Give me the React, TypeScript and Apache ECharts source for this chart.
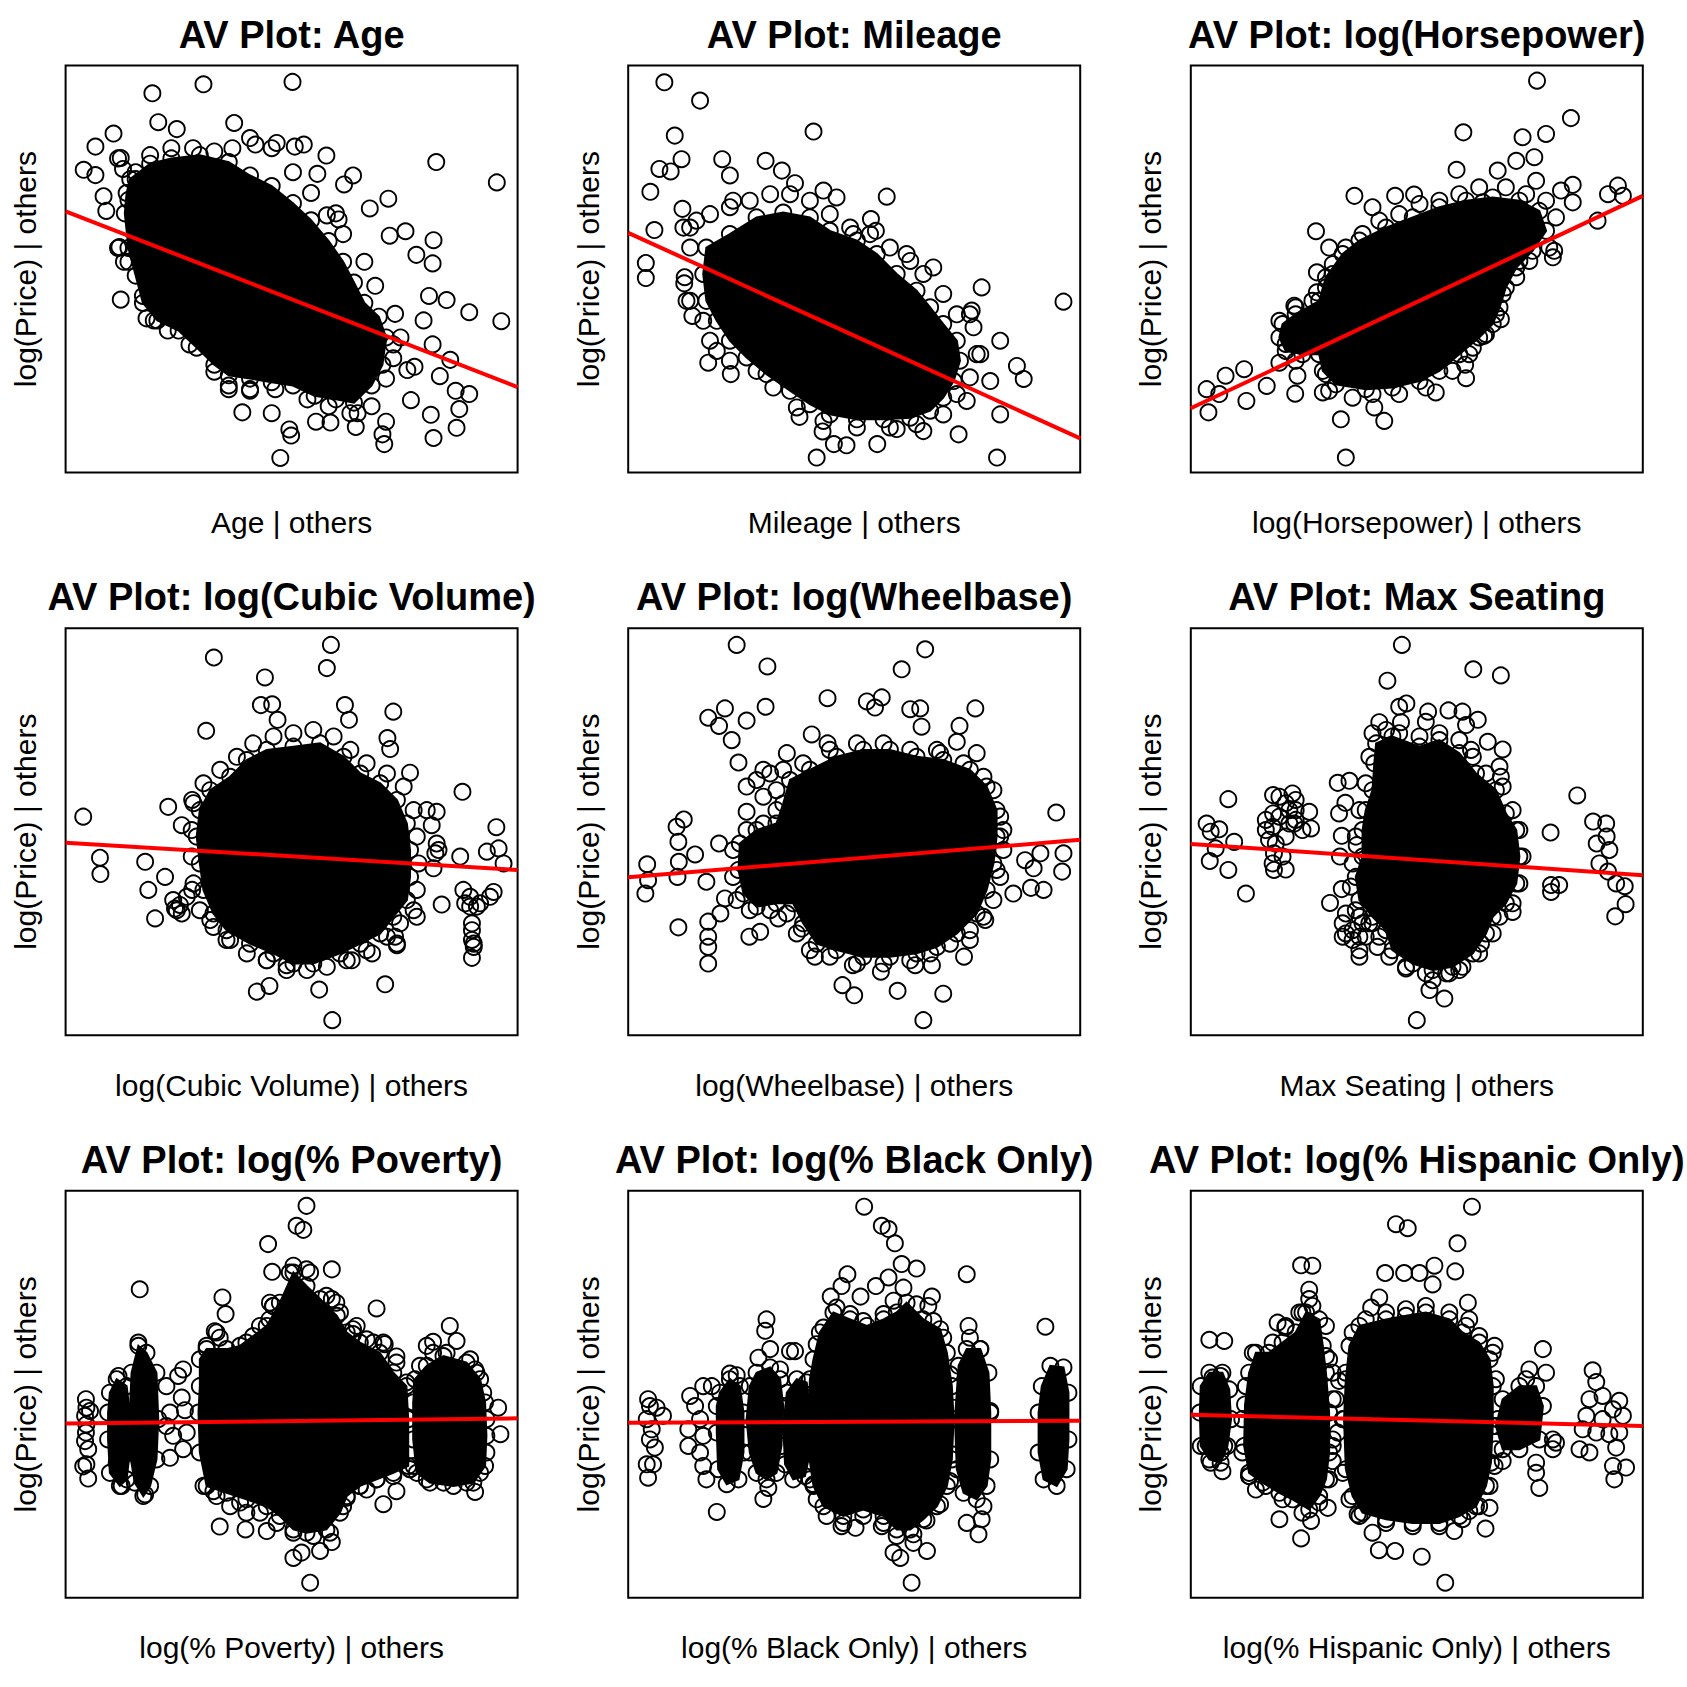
import React, { useEffect, useRef } from "react";
import * as echarts from "echarts";

type P = [number, number];

// ---------- text ----------
const titles = [
  "AV Plot: Age",
  "AV Plot: Mileage",
  "AV Plot: log(Horsepower)",
  "AV Plot: log(Cubic Volume)",
  "AV Plot: log(Wheelbase)",
  "AV Plot: Max Seating",
  "AV Plot: log(% Poverty)",
  "AV Plot: log(% Black Only)",
  "AV Plot: log(% Hispanic Only)",
];
const xLabels = [
  "Age | others",
  "Mileage | others",
  "log(Horsepower) | others",
  "log(Cubic Volume) | others",
  "log(Wheelbase) | others",
  "Max Seating | others",
  "log(% Poverty) | others",
  "log(% Black Only) | others",
  "log(% Hispanic Only) | others",
];
const yLabel = "log(Price) | others";

// ---------- Panel 1: Age ----------
const ageCore: P[] = [[14.3,72.1],[18.7,75.9],[23.4,77.2],[29.7,78.0],[36.1,76.3],[40.8,73.0],[45.6,70.4],[50.3,66.2],[54.3,62.0],[58.2,56.9],[61.4,51.8],[63.8,46.7],[66.1,41.7],[69.3,38.3],[70.9,33.2],[70.1,26.5],[67.7,21.4],[63.8,17.2],[59.8,18.0],[55.1,18.9],[50.3,21.4],[45.6,22.2],[40.8,23.1],[36.1,23.9],[32.9,26.5],[29.0,30.7],[25.0,34.9],[20.3,37.4],[17.1,41.7],[15.5,48.4],[13.9,55.2],[13.1,63.7],[13.5,68.7]];
const ageHalo: P[] = [[11.6,77.2],[12.7,74.6],[15.5,72.1],[13.9,67.0],[11.6,55.2],[13.9,51.8],[17.1,43.4],[19.5,37.4],[22.6,34.9],[27.4,31.5],[32.9,24.8],[36.1,21.4],[40.8,20.5],[46.4,20.5],[53.5,18.0],[58.2,16.3],[63.0,14.6],[67.7,16.3],[70.9,23.1],[72.5,28.1],[74.1,33.2],[68.5,45.9],[66.1,51.8],[61.4,58.6],[59.8,63.7],[54.3,68.7],[50.3,73.8],[45.6,79.7],[40.8,82.2],[36.9,79.7],[32.9,78.9],[28.2,79.7],[23.4,79.7],[18.7,78.0],[15.5,73.8]];
const agePoints: P[] = [[19.2,93.2],[30.5,95.4],[50.2,96.0],[20.5,86.1],[24.6,84.4],[10.6,83.3],[6.6,80.1],[37.3,85.9],[12.2,77.3],[4.0,74.4],[6.6,73.1],[57.7,77.9],[82.0,76.3],[95.4,71.3],[63.6,73.0],[61.6,70.8],[71.4,67.3],[67.3,64.9],[8.4,67.9],[9.0,64.3],[12.2,42.5],[17.9,37.9],[75.2,59.3],[71.7,58.2],[81.4,57.1],[81.2,51.4],[77.6,53.5],[80.4,43.4],[84.3,42.4],[89.3,39.4],[96.4,37.2],[79.2,37.4],[81.2,31.5],[85.1,27.7],[86.3,20.1],[89.3,19.3],[87.1,15.6],[86.5,11.0],[81.4,8.5],[80.8,14.2],[76.4,17.8],[70.5,7.0],[70.1,9.4],[70.9,12.5],[47.5,3.6],[49.9,9.1],[49.5,10.6],[45.6,14.6],[39.1,14.8],[58.6,12.3],[55.4,12.5],[64.2,11.2],[52.7,80.6],[50.7,80.1],[46.7,81.0],[42.0,80.6],[55.7,73.4],[57.8,63.2],[60.4,62.2],[11.9,55.4],[75.6,25.2],[72.5,31.5],[82.8,23.7],[12.9,51.8],[77.2,26.0],[72.9,39.0],[64.6,14.6],[36.1,20.5],[40.8,20.1]];
const ageFit: P = [64.2, 21.0];

// ---------- Panel 2: Mileage ----------
const mileageCore: P[] = [[17.3,55.3],[22.5,58.6],[28.4,62.7],[34.3,63.9],[40.2,62.7],[44.6,59.4],[50.6,57.0],[55.0,53.7],[59.4,48.8],[63.8,44.7],[66.8,40.6],[69.7,36.5],[72.7,32.4],[73.4,27.5],[72.0,22.5],[69.7,18.4],[66.8,15.2],[62.4,13.5],[56.5,13.1],[50.6,13.1],[44.6,14.3],[40.2,16.8],[35.8,20.1],[30.6,24.2],[26.2,28.3],[22.5,32.4],[19.6,37.3],[17.3,42.2],[16.6,48.8]];
const mileageHalo: P[] = [[12.2,60.2],[13.7,55.3],[12.5,48.0],[13.7,42.2],[16.6,37.3],[19.6,29.9],[22.5,27.5],[28.4,25.0],[32.1,20.9],[37.3,16.0],[43.2,12.7],[50.6,11.1],[57.9,11.1],[63.8,11.9],[69.7,14.3],[72.7,19.3],[75.6,23.4],[77.1,29.1],[76.4,35.7],[72.7,38.9],[69.7,43.9],[65.3,48.8],[62.4,52.0],[57.9,55.3],[53.5,58.6],[49.1,60.2],[44.6,63.5],[40.2,66.8],[35.8,68.4],[31.4,68.4],[26.9,66.8],[22.5,65.2],[18.1,63.5],[15.1,61.9]];
const mileagePoints: P[] = [[8.0,95.9],[15.9,91.4],[41.0,83.8],[10.3,82.8],[11.8,77.0],[6.9,74.6],[9.4,74.0],[20.8,77.0],[30.4,76.6],[4.9,69.0],[5.8,59.6],[3.9,51.5],[3.9,47.8],[57.2,67.8],[53.7,62.3],[78.2,45.5],[96.3,42.0],[12.0,64.8],[22.5,73.0],[34.0,74.2],[43.2,69.3],[46.1,67.6],[36.9,71.1],[17.7,27.0],[22.7,24.2],[12.4,46.5],[14.2,38.5],[37.9,13.7],[43.0,10.1],[45.5,7.0],[48.3,6.7],[41.7,3.7],[55.1,7.0],[73.1,9.4],[81.6,3.7],[82.3,14.3],[86.0,26.2],[87.5,23.0],[82.3,32.4],[76.0,39.8],[67.5,50.4],[61.6,53.7],[65.3,10.2],[59.4,10.7],[54.8,59.4],[49.8,58.6],[12.9,42.2],[18.1,32.4],[77.9,29.1],[80.1,22.5],[74.9,17.6],[23.2,66.8],[13.7,60.2],[75.6,38.9]];
const mileageFit: P = [58.9, 8.4];

// ---------- Panel 3: log(Horsepower) ----------
const hpCore: P[] = [[20.3,36.5],[23.2,38.9],[28.4,42.2],[29.9,48.0],[33.6,53.7],[37.3,57.0],[43.2,60.2],[49.1,62.7],[55.0,65.2],[60.9,66.8],[66.8,67.6],[72.7,66.8],[77.1,64.3],[78.6,59.4],[75.6,54.5],[72.0,50.4],[69.7,45.5],[68.3,40.6],[66.8,36.5],[63.8,33.2],[59.4,29.1],[55.0,25.0],[50.6,22.5],[44.6,20.9],[38.7,20.5],[32.1,21.7],[29.2,25.0],[28.4,29.1],[24.7,29.1],[21.0,29.9],[19.6,33.2]];
const hpHalo: P[] = [[19.6,37.3],[21.0,31.6],[23.2,27.5],[29.9,24.2],[30.6,20.1],[35.8,18.4],[40.2,19.3],[46.1,19.3],[52.0,20.9],[57.9,25.0],[62.4,30.7],[65.3,34.0],[67.5,38.9],[69.0,43.9],[72.0,48.0],[74.9,52.0],[79.3,55.3],[80.8,62.7],[78.6,66.8],[74.2,68.4],[69.7,70.1],[63.8,70.1],[59.4,68.4],[55.0,66.8],[50.6,66.0],[46.1,63.5],[41.7,61.9],[38.0,58.6],[34.3,55.3],[31.4,51.2],[29.9,45.5],[26.9,42.2],[23.2,40.6]];
const hpPoints: P[] = [[76.6,96.3],[84.1,87.1],[60.3,83.6],[73.4,82.4],[78.6,83.2],[72.0,76.6],[76.0,77.5],[58.8,74.4],[67.9,74.2],[76.4,71.7],[84.5,70.7],[81.9,69.3],[84.5,66.4],[94.5,70.5],[95.6,68.0],[92.3,68.4],[90.0,61.9],[36.2,68.0],[45.2,68.0],[49.4,68.3],[27.7,59.3],[40.2,65.2],[80.4,54.5],[80.1,52.9],[68.6,37.7],[64.9,33.6],[61.6,29.1],[60.7,26.5],[60.9,23.2],[54.2,19.7],[42.8,12.7],[40.6,16.0],[33.2,13.1],[34.3,3.7],[29.2,19.7],[23.1,19.4],[23.6,23.8],[16.8,21.3],[12.3,17.6],[11.8,25.4],[7.7,23.8],[6.3,19.3],[3.5,20.5],[3.9,14.8],[19.6,27.0],[22.9,41.0],[27.9,49.2],[27.9,44.3],[30.6,55.3],[31.4,48.8],[69.0,48.8],[72.7,52.0],[64.6,66.4]];
const hpFit: P = [15.8, 68.0];

// ---------- Panel 4: log(Cubic Volume) ----------
const cubicCore: P[] = [[29.7,55.3],[32.0,60.2],[36.4,63.5],[40.1,67.6],[44.5,70.1],[50.4,70.9],[56.3,71.7],[61.5,68.4],[65.2,64.3],[69.6,61.9],[73.3,57.8],[75.5,52.0],[76.2,45.5],[76.2,38.9],[75.5,33.2],[72.5,29.1],[69.6,25.0],[65.2,22.5],[60.7,20.1],[54.8,17.6],[50.4,17.6],[46.0,20.1],[40.8,22.5],[35.6,25.8],[32.7,29.9],[30.5,35.7],[29.7,42.2],[29.0,48.8]];
const cubicHalo: P[] = [[28.3,57.0],[30.5,61.9],[34.2,65.2],[37.9,68.4],[41.5,71.7],[46.0,73.4],[50.4,74.2],[54.8,75.0],[59.3,73.4],[63.0,70.1],[66.6,66.8],[71.1,64.3],[74.8,61.1],[77.0,55.3],[77.7,48.8],[78.1,42.2],[77.7,35.7],[77.0,30.7],[74.0,27.5],[71.1,24.2],[66.6,20.9],[62.2,18.4],[57.8,16.8],[53.4,16.0],[48.9,16.0],[44.5,18.4],[40.1,20.1],[35.6,23.4],[32.7,26.6],[29.7,30.7],[28.3,37.3],[27.9,43.9],[27.9,50.4]];
const cubicPoints: P[] = [[58.7,95.9],[32.8,92.8],[57.8,90.2],[44.1,87.9],[31.1,74.8],[43.2,81.1],[45.7,81.3],[46.9,77.5],[61.8,81.1],[62.7,77.5],[72.5,79.5],[71.2,73.0],[71.8,70.3],[76.2,64.5],[87.8,59.8],[79.9,55.3],[82.1,54.9],[95.3,51.1],[81.0,51.6],[87.3,43.9],[93.2,45.1],[95.8,45.9],[96.9,42.2],[94.7,35.2],[93.9,34.0],[83.2,32.1],[81.4,41.0],[89.5,31.6],[89.9,25.8],[89.9,19.0],[90.3,22.5],[3.9,53.7],[7.6,43.6],[7.7,39.6],[17.6,42.6],[18.3,35.7],[19.8,28.7],[22.7,56.1],[28.0,57.8],[25.7,51.6],[24.6,30.7],[22.0,38.9],[42.3,10.7],[45.1,12.1],[56.1,11.2],[70.7,12.5],[59.0,3.7],[67.8,20.1],[63.3,18.4],[48.9,17.2],[44.5,18.4],[73.3,22.5],[77.7,29.1],[36.4,23.4],[32.0,28.3],[24.2,31.1],[25.7,29.9],[26.8,34.0],[25.3,32.0],[23.8,33.2],[28.0,35.7],[89.9,27.5],[89.9,23.4],[90.3,21.7],[72.9,24.2],[73.3,22.1],[82.1,47.1],[82.5,45.5],[81.8,44.7],[88.0,35.7],[89.5,34.0],[91.7,32.4],[88.4,32.4],[91.0,31.6]];
const cubicFit: P = [47.3, 40.6];

// ---------- Panel 5: log(Wheelbase) ----------
const wheelCore: P[] = [[35.8,62.7],[40.2,65.2],[46.1,68.4],[52.0,70.1],[57.9,70.1],[63.8,68.4],[69.7,67.6],[75.6,65.2],[79.3,61.1],[81.5,55.3],[81.5,48.8],[80.8,42.2],[79.3,35.7],[77.1,29.9],[72.7,25.0],[68.3,21.7],[63.8,20.1],[57.9,19.3],[52.0,19.3],[46.1,20.9],[41.7,22.5],[38.7,27.5],[36.5,32.4],[32.8,32.4],[28.4,31.6],[25.5,34.8],[24.4,40.6],[24.7,47.1],[28.4,50.4],[32.8,52.0],[34.3,56.9]];
const wheelHalo: P[] = [[34.3,65.2],[38.7,66.8],[44.6,70.1],[50.6,71.7],[56.5,71.7],[62.4,70.1],[68.3,70.1],[74.2,66.8],[78.6,63.5],[80.8,60.2],[82.3,53.7],[83.0,45.5],[82.3,38.9],[80.8,33.2],[78.6,29.1],[75.6,25.8],[71.2,22.5],[66.8,20.1],[62.4,18.4],[56.5,17.6],[50.6,17.6],[44.6,19.3],[40.2,20.9],[37.3,25.0],[35.1,29.9],[31.4,30.7],[26.9,30.7],[24.0,33.2],[23.2,38.9],[23.2,45.5],[26.2,50.4],[29.9,52.0],[32.8,55.3],[32.8,60.2],[29.9,65.2],[28.4,62.7]];
const wheelPoints: P[] = [[24.0,95.9],[30.8,90.6],[65.7,94.8],[60.5,89.9],[44.1,82.8],[52.8,82.0],[56.1,83.0],[54.6,80.5],[30.4,80.7],[21.4,80.3],[17.7,78.0],[20.1,76.0],[26.2,77.3],[22.9,72.5],[76.8,80.3],[62.4,80.1],[64.6,80.3],[64.9,75.8],[40.6,73.9],[44.1,71.7],[73.3,76.0],[72.7,72.1],[24.4,67.0],[26.2,61.1],[26.2,54.9],[12.3,53.0],[10.7,51.2],[11.1,47.5],[14.8,44.4],[11.2,42.6],[10.9,38.9],[20.1,47.1],[4.2,42.0],[4.4,38.1],[3.8,34.8],[17.3,37.7],[11.1,26.5],[17.7,27.9],[20.4,29.9],[17.7,24.2],[17.7,21.7],[17.7,17.6],[26.8,24.2],[29.2,25.4],[21.4,33.6],[33.2,28.7],[94.7,54.7],[96.3,44.7],[96.0,40.2],[91.9,35.7],[89.1,36.2],[85.2,34.8],[87.8,43.0],[91.2,44.7],[89.7,41.0],[79.0,28.3],[75.6,23.4],[74.3,19.3],[69.7,10.2],[59.6,10.9],[65.3,3.7],[50.0,9.8],[47.4,12.3],[41.3,19.3],[49.7,17.2],[55.9,15.6],[63.5,17.2],[67.2,17.2],[38.4,26.2],[83.0,50.4],[82.3,48.8],[81.5,40.6],[77.1,69.3],[69.0,69.3],[31.4,64.3],[35.1,69.3],[29.9,58.6]];
const wheelFit: P = [38.8, 48.0];

// ---------- Panel 6: Max Seating ----------
const seatCore: P[] = [[41.0,71.7],[44.6,73.4],[50.6,70.9],[55.0,72.5],[59.4,69.3],[63.1,64.3],[67.5,60.2],[69.7,54.5],[72.0,50.4],[72.7,43.9],[72.0,37.3],[69.7,32.4],[66.8,29.1],[65.3,25.0],[62.4,20.1],[57.9,16.8],[53.5,16.0],[49.1,17.6],[44.6,20.9],[43.2,25.8],[40.2,29.1],[37.3,33.2],[36.5,38.9],[38.0,43.9],[38.0,50.4],[38.7,55.3],[40.2,60.2],[40.6,66.8]];
const seatHalo: P[] = [[40.2,74.2],[43.2,75.0],[46.1,74.2],[50.6,73.4],[55.0,74.2],[59.4,72.5],[62.4,68.4],[65.3,64.3],[69.0,61.1],[71.2,55.3],[72.7,50.4],[73.4,43.9],[72.7,37.3],[71.2,32.4],[68.3,29.1],[66.8,25.0],[63.8,20.1],[60.1,16.8],[56.5,15.2],[52.0,15.2],[47.6,16.8],[43.9,19.3],[41.7,24.2],[39.5,27.5],[36.5,30.7],[35.4,36.5],[35.8,42.2],[36.5,48.8],[37.3,55.3],[38.7,61.9],[39.5,68.4]];
const seatPoints: P[] = [[46.7,95.9],[43.5,87.1],[62.5,89.9],[68.6,88.4],[46.1,80.7],[47.7,81.5],[52.5,79.5],[57.0,79.8],[60.1,79.5],[63.5,77.5],[41.7,76.9],[46.5,76.9],[52.0,77.0],[60.9,76.2],[65.7,72.1],[69.0,70.2],[62.0,70.1],[68.3,66.0],[68.6,63.5],[32.5,62.0],[35.1,62.5],[34.2,57.1],[32.8,54.5],[33.4,49.0],[33.0,43.9],[36.7,46.7],[33.4,35.9],[30.8,32.5],[8.3,58.0],[3.5,52.0],[4.4,50.0],[6.3,50.6],[9.6,47.5],[5.5,45.9],[4.2,42.8],[8.3,40.6],[12.2,34.8],[18.2,59.0],[18.2,54.5],[16.6,50.4],[22.5,59.4],[23.2,57.8],[21.8,55.3],[26.2,54.9],[22.9,52.0],[26.6,50.8],[18.4,40.6],[21.0,40.7],[18.4,44.7],[17.3,48.0],[85.5,58.9],[79.6,49.8],[89.0,52.5],[91.9,52.0],[92.0,48.8],[89.8,47.1],[92.6,45.5],[90.4,42.2],[92.3,40.2],[94.1,37.3],[96.0,36.6],[96.2,32.2],[93.9,29.2],[79.7,36.9],[81.5,36.9],[79.7,35.2],[71.2,30.3],[50.0,3.7],[52.8,11.1],[56.1,9.0],[53.5,13.5],[47.6,16.4],[57.2,15.2],[59.4,16.0],[37.3,19.3],[37.3,20.9],[41.3,21.7],[34.3,25.0],[33.6,27.5],[34.3,29.9],[38.0,27.5],[38.7,24.2],[64.2,22.5],[35.8,25.8],[37.3,29.1],[40.2,27.5],[33.6,24.2],[35.8,23.4],[37.3,24.2],[19.6,58.6],[21.0,57.0],[23.2,55.3],[19.6,53.7],[21.8,52.0],[18.1,51.2],[21.0,48.8],[18.8,47.1],[23.2,52.9],[16.6,52.9],[24.7,50.4],[20.3,43.9],[18.1,42.2]];
const seatFit: P = [47.0, 39.3];

// ---------- Panel 7: log(% Poverty) ----------
const povertyBlobB: P[] = [[9.8,50.4],[11.3,53.7],[13.5,52.0],[14.2,45.5],[14.2,35.7],[13.5,29.1],[12.0,27.5],[9.8,30.7],[9.4,38.9],[9.4,45.5]];
const povertyBlobC: P[] = [[14.6,55.3],[16.1,61.9],[17.9,60.2],[20.1,55.3],[20.5,43.9],[20.1,34.0],[18.7,27.5],[17.2,25.0],[15.3,28.3],[14.2,35.7],[14.2,45.5]];
const povertyBlobE: P[] = [[29.7,58.6],[31.2,61.1],[35.6,61.1],[38.6,61.9],[41.5,64.3],[44.5,66.8],[47.4,72.5],[50.4,79.9],[53.3,76.6],[56.3,73.4],[60.0,69.3],[62.2,65.2],[65.1,62.7],[69.5,60.2],[72.5,55.3],[75.4,52.0],[75.8,43.9],[75.8,32.4],[72.5,30.7],[68.8,29.1],[65.1,27.5],[62.2,25.0],[60.7,20.9],[57.7,16.8],[53.3,16.0],[50.4,16.8],[47.4,20.1],[44.5,22.5],[40.0,24.2],[35.6,25.8],[31.2,27.5],[29.7,35.7],[29.4,45.5],[29.7,52.0]];
const povertyBlobF: P[] = [[77.3,53.7],[79.9,57.0],[83.6,59.4],[88.7,57.8],[91.7,53.7],[92.8,48.0],[93.1,39.8],[92.8,32.4],[90.2,28.3],[85.8,27.5],[80.6,28.3],[77.7,30.7],[76.9,38.9],[76.9,48.0]];
const povertyHalo: P[] = [[31.2,61.9],[33.4,65.2],[40.0,62.7],[43.0,66.8],[45.9,71.7],[49.6,79.9],[54.1,79.9],[57.7,74.2],[60.7,70.1],[63.6,66.0],[66.6,63.5],[70.3,62.7],[73.2,57.8],[75.4,52.9],[30.5,27.5],[33.4,25.0],[38.6,23.4],[43.0,20.9],[46.7,18.4],[50.4,16.0],[54.8,15.2],[58.5,16.0],[61.4,22.5],[65.1,27.5],[68.8,29.1],[72.5,29.9],[76.2,31.6],[78.4,57.0],[81.3,60.2],[84.3,60.2],[89.5,58.6],[90.9,55.3],[92.4,50.4],[93.1,43.9],[93.1,35.7],[91.7,30.7],[88.7,28.3],[83.6,28.3],[79.9,29.1],[77.0,32.4]];
const povertyPoints: P[] = [[4.5,48.8],[4.6,46.7],[4.3,44.7],[4.6,42.6],[4.5,40.6],[4.3,38.5],[5.0,36.5],[4.6,32.8],[5.0,29.3],[3.9,32.3],[5.4,45.9],[16.4,75.8],[11.7,54.5],[16.1,62.7],[17.6,25.4],[12.4,27.5],[11.3,33.2],[22.3,52.0],[26.0,56.1],[25.7,49.2],[26.4,46.1],[23.1,45.5],[22.3,42.2],[23.8,39.8],[26.8,40.6],[26.0,36.5],[23.1,34.4],[24.9,54.5],[53.3,96.3],[51.1,91.4],[52.6,90.4],[44.8,86.9],[45.7,80.1],[50.4,81.6],[53.3,80.7],[58.9,80.7],[34.7,73.8],[35.4,69.7],[45.1,68.4],[45.2,72.5],[45.9,71.7],[58.9,73.4],[59.9,72.5],[68.8,71.1],[64.4,66.8],[63.6,64.8],[68.1,62.7],[70.6,62.3],[73.2,59.3],[33.0,65.5],[34.1,63.9],[85.0,66.8],[86.5,63.1],[79.9,61.9],[81.3,62.9],[95.7,46.7],[96.2,40.2],[90.6,26.0],[90.6,56.1],[73.2,26.2],[70.3,23.0],[66.6,26.6],[76.2,31.6],[34.1,17.5],[39.8,16.8],[40.0,20.9],[36.4,22.5],[44.5,16.4],[50.4,9.8],[52.2,11.1],[56.3,11.5],[58.9,13.7],[54.1,3.7],[32.7,26.2],[62.2,24.6]];
const povertyFit: P = [42.8, 44.1];

// ---------- Panel 8: log(% Black Only) ----------
const blackBlobC: P[] = [[20.3,50.4],[22.5,53.7],[24.7,52.0],[25.5,45.5],[25.5,35.7],[24.4,29.1],[21.8,27.9],[19.9,31.6],[19.6,40.6],[19.6,47.1]];
const blackBlobD: P[] = [[26.9,52.0],[28.4,55.3],[31.4,56.6],[33.6,53.7],[34.3,47.1],[33.9,37.3],[32.8,30.7],[30.6,29.1],[28.4,30.7],[26.9,35.7],[26.2,43.9]];
const blackBlobE: P[] = [[35.1,50.4],[37.3,53.7],[39.5,52.9],[40.2,45.5],[40.2,35.7],[39.1,29.9],[36.5,29.1],[34.7,32.8],[34.3,42.2]];
const blackBlobF: P[] = [[41.0,58.6],[42.4,65.2],[45.4,70.1],[49.1,68.4],[52.8,66.8],[56.5,68.4],[59.4,70.1],[61.6,72.5],[65.3,68.4],[69.0,66.0],[70.5,60.2],[71.6,52.0],[72.0,43.9],[71.6,34.0],[70.5,27.5],[68.3,22.5],[65.3,19.3],[62.4,16.8],[59.4,16.8],[56.5,20.1],[52.0,21.7],[47.6,20.1],[43.2,22.5],[41.0,27.5],[39.9,35.7],[39.9,45.5],[40.2,53.7]];
const blackBlobG: P[] = [[73.1,57.0],[74.9,61.1],[77.9,61.1],[79.7,55.3],[80.1,45.5],[80.1,34.0],[79.3,27.5],[77.1,24.2],[74.2,25.8],[72.7,31.6],[72.3,43.9]];
const blackBlobH: P[] = [[91.5,52.0],[93.4,57.0],[96.3,56.6],[97.4,50.4],[97.4,38.9],[97.0,31.6],[94.8,27.5],[91.9,29.1],[90.8,35.7],[90.8,45.5]];
const blackHalo: P[] = [[41.7,62.3],[43.2,66.4],[46.1,71.3],[49.1,69.7],[52.0,68.0],[56.5,69.7],[58.7,73.0],[60.9,76.2],[63.8,72.1],[67.5,68.0],[69.7,63.9],[71.2,54.9],[71.9,46.7],[71.9,35.2],[71.2,28.7],[69.0,23.0],[66.0,19.0],[63.1,15.6],[59.4,15.2],[56.5,18.4],[52.0,20.1],[47.6,18.4],[43.9,20.1],[41.7,24.2],[40.2,29.1]];
const blackPoints: P[] = [[4.4,48.8],[4.8,47.1],[6.3,46.7],[7.7,44.7],[4.1,43.9],[5.2,41.4],[4.8,38.9],[5.9,36.9],[4.1,32.8],[5.5,32.8],[4.4,29.5],[13.7,49.6],[16.6,52.0],[14.8,47.1],[15.9,43.9],[13.3,41.4],[16.6,39.8],[13.3,37.3],[15.9,35.7],[16.6,32.4],[17.3,29.1],[19.6,21.1],[18.5,52.0],[52.2,96.1],[56.1,91.4],[57.6,90.6],[59.0,87.1],[60.5,82.0],[63.8,80.9],[48.5,79.5],[47.2,76.6],[54.8,76.6],[57.6,78.7],[51.4,74.0],[44.8,74.0],[67.2,74.0],[66.4,71.7],[74.9,79.5],[92.3,66.6],[30.6,68.4],[30.3,65.6],[35.8,60.6],[36.9,60.6],[28.8,59.0],[31.4,61.1],[33.6,56.1],[22.5,55.1],[24.0,54.7],[75.3,66.8],[75.6,63.9],[77.9,61.1],[80.1,45.9],[29.9,24.3],[31.0,27.0],[78.2,19.3],[77.5,15.6],[74.9,18.4],[78.6,22.5],[66.1,11.5],[63.1,13.5],[58.7,11.1],[60.2,9.8],[62.7,3.7],[47.2,17.6],[50.3,17.2],[56.1,17.6],[41.0,27.9]];
const blackFit: P = [43.0, 43.5];

// ---------- Panel 9: log(% Hispanic Only) ----------
const hispBlobA: P[] = [[2.2,52.0],[4.1,55.3],[7.0,55.3],[8.5,51.2],[8.9,43.9],[8.1,37.3],[6.6,33.2],[4.1,34.0],[2.2,37.3],[2.0,45.5]];
const hispBlobB: P[] = [[12.9,55.3],[14.4,60.2],[17.3,60.2],[20.3,62.7],[23.2,65.2],[25.5,70.1],[28.4,68.4],[29.2,61.9],[29.9,55.3],[30.6,45.5],[30.6,35.7],[29.9,29.1],[28.4,25.0],[26.2,21.7],[22.5,24.2],[19.6,25.8],[15.9,28.3],[12.9,30.7],[11.8,37.3],[12.0,47.5]];
const hispBlobC: P[] = [[35.1,61.9],[37.3,66.8],[43.2,68.4],[47.6,69.3],[52.0,70.1],[57.2,68.4],[60.1,65.2],[63.8,62.7],[66.1,58.6],[66.8,52.0],[66.8,42.2],[66.4,33.2],[65.3,27.5],[63.1,22.5],[59.4,20.1],[55.0,18.4],[49.1,18.4],[43.2,19.3],[38.0,20.9],[35.8,25.0],[34.3,31.6],[33.9,43.9],[34.3,53.7]];
const hispBlobD: P[] = [[69.0,48.8],[72.7,52.0],[76.4,52.0],[77.9,47.1],[77.1,38.9],[72.7,36.5],[69.0,36.5],[67.5,42.2]];
const hispHalo: P[] = [[35.8,65.2],[38.7,68.4],[43.2,70.1],[47.6,70.9],[52.0,71.7],[57.2,70.1],[60.9,66.8],[63.8,64.3],[66.8,60.2],[67.5,53.7],[67.9,43.9],[67.2,32.4],[66.1,27.5],[63.8,22.5],[60.1,19.3],[55.0,17.6],[49.1,17.6],[43.2,18.4],[37.3,20.1],[35.1,24.2],[33.6,30.7],[33.6,43.9],[34.3,55.3],[13.7,60.2],[18.1,62.7],[21.0,66.8],[24.0,70.1],[26.9,71.7],[29.9,66.8],[30.6,58.6],[31.4,48.8],[31.4,37.3],[30.6,29.1],[28.4,23.4],[24.7,20.9],[20.3,24.2],[16.6,27.5],[12.9,29.9],[11.4,35.7],[11.4,43.9],[12.2,52.0]];
const hispPoints: P[] = [[74.9,56.1],[74.2,53.7],[77.9,61.1],[78.6,55.3],[76.4,33.2],[76.4,30.7],[77.1,27.0],[80.1,38.9],[80.1,36.5],[69.0,33.6],[67.5,36.5],[88.9,55.9],[89.7,53.0],[88.2,48.8],[91.1,49.6],[94.8,48.4],[93.4,46.3],[95.6,44.7],[86.7,41.4],[89.7,40.6],[92.6,40.2],[94.8,40.6],[86.0,36.5],[88.2,35.7],[94.1,36.9],[93.4,32.4],[96.3,32.0],[93.7,29.1],[87.5,44.7],[91.1,43.9],[62.2,96.1],[45.4,91.8],[48.0,90.8],[59.0,87.1],[24.4,81.7],[26.9,81.6],[43.0,79.8],[47.2,79.8],[50.6,79.8],[53.9,81.6],[53.5,77.0],[58.5,80.2],[26.2,75.7],[26.2,73.4],[61.3,72.5],[61.6,68.4],[41.7,73.8],[39.9,71.3],[4.1,63.4],[7.4,63.1],[19.2,67.6],[20.9,66.4],[24.7,70.1],[67.2,61.9],[29.9,59.4],[31.4,55.3],[32.8,53.3],[32.1,48.8],[32.5,40.6],[31.4,33.6],[14.4,26.6],[12.9,29.9],[19.6,19.3],[24.4,14.6],[26.6,18.9],[30.3,22.1],[36.9,20.5],[40.2,16.0],[41.6,11.7],[45.2,11.5],[51.1,10.1],[56.3,3.7],[58.3,16.4],[65.2,17.0],[66.1,22.1],[61.6,21.3],[7.0,31.1],[4.4,33.2],[3.3,37.3],[6.6,35.7],[7.4,37.3],[4.8,54.1],[6.6,54.5],[31.4,38.9],[80.8,38.1]];
const hispFit: P = [45.0, 42.2];

// ---------- panel assembly ----------
const panelBlobs: P[][][] = [
  [ageCore],
  [mileageCore],
  [hpCore],
  [cubicCore],
  [wheelCore],
  [seatCore],
  [povertyBlobB, povertyBlobC, povertyBlobE, povertyBlobF],
  [blackBlobC, blackBlobD, blackBlobE, blackBlobF, blackBlobG, blackBlobH],
  [hispBlobA, hispBlobB, hispBlobC, hispBlobD],
];
const panelHalos: P[][] = [ageHalo, mileageHalo, hpHalo, cubicHalo, wheelHalo, seatHalo, povertyHalo, blackHalo, hispHalo];
const panelPoints: P[][] = [agePoints, mileagePoints, hpPoints, cubicPoints, wheelPoints, seatPoints, povertyPoints, blackPoints, hispPoints];
const panelFits: P[] = [ageFit, mileageFit, hpFit, cubicFit, wheelFit, seatFit, povertyFit, blackFit, hispFit];

const FONT = "'Liberation Sans', Arial, Helvetica, sans-serif";

export default function App() {
  const ref = useRef<HTMLDivElement>(null);

  useEffect(() => {
    if (!ref.current) return;
    const chart = echarts.init(ref.current, null, { renderer: "svg" });

    const boxW = 452;
    const boxH = 407;
    const step = 562.6;
    const origin = 65.6;

    const grids: any[] = [];
    const xAxes: any[] = [];
    const yAxes: any[] = [];
    const series: any[] = [];
    const graphics: any[] = [];

    for (let i = 0; i < 9; i++) {
      const col = i % 3;
      const row = Math.floor(i / 3);
      const left = origin + step * col;
      const top = origin + step * row;
      grids.push({
        left,
        top,
        width: boxW,
        height: boxH,
        show: true,
        borderColor: "#000",
        borderWidth: 2,
        backgroundColor: "transparent",
        containLabel: false,
      });
      const hidden = {
        type: "value",
        gridIndex: i,
        min: 0,
        max: 100,
        axisLine: { show: false },
        axisTick: { show: false },
        axisLabel: { show: false },
        splitLine: { show: false },
      };
      xAxes.push({ ...hidden });
      yAxes.push({ ...hidden });

      const blobs = panelBlobs[i];
      series.push({
        type: "custom",
        xAxisIndex: i,
        yAxisIndex: i,
        silent: true,
        z: 1,
        data: blobs.map((b) => b[0]),
        renderItem: (params: any, api: any) => ({
          type: "polygon",
          shape: { points: blobs[params.dataIndex].map((pt) => api.coord(pt)) },
          style: { fill: "#000", stroke: "#000", lineWidth: 2 },
        }),
      });
      series.push({
        type: "scatter",
        xAxisIndex: i,
        yAxisIndex: i,
        silent: true,
        z: 2,
        symbol: "circle",
        symbolSize: 16,
        itemStyle: { color: "rgba(0,0,0,0)", borderColor: "#000", borderWidth: 1.9, opacity: 1 },
        data: [...panelPoints[i], ...panelHalos[i], ...blobs.flat()],
      });
      const fit = panelFits[i];
      series.push({
        type: "line",
        xAxisIndex: i,
        yAxisIndex: i,
        silent: true,
        z: 3,
        symbol: "none",
        lineStyle: { color: "#ff0000", width: 4 },
        data: [
          [0, fit[0]],
          [100, fit[1]],
        ],
      });

      graphics.push({
        type: "text",
        x: left + boxW / 2,
        y: top - 31,
        style: {
          text: titles[i],
          fontSize: 38,
          fontWeight: "bold",
          fontFamily: FONT,
          fill: "#000",
          align: "center",
          verticalAlign: "middle",
        },
      });
      graphics.push({
        type: "text",
        x: left + boxW / 2,
        y: top + boxH + 50,
        style: {
          text: xLabels[i],
          fontSize: 30,
          fontFamily: FONT,
          fill: "#000",
          align: "center",
          verticalAlign: "middle",
        },
      });
      graphics.push({
        type: "text",
        x: left - 40,
        y: top + boxH / 2,
        rotation: Math.PI / 2,
        style: {
          text: yLabel,
          fontSize: 30,
          fontFamily: FONT,
          fill: "#000",
          align: "center",
          verticalAlign: "middle",
        },
      });
    }

    chart.setOption({
      animation: false,
      backgroundColor: "#fff",
      grid: grids,
      xAxis: xAxes,
      yAxis: yAxes,
      series,
      graphic: graphics,
    });

    return () => chart.dispose();
  }, []);

  return (
    <div
      ref={ref}
      style={{ position: "absolute", left: 0, top: 0, width: 1687, height: 1687, background: "#fff" }}
    />
  );
}
